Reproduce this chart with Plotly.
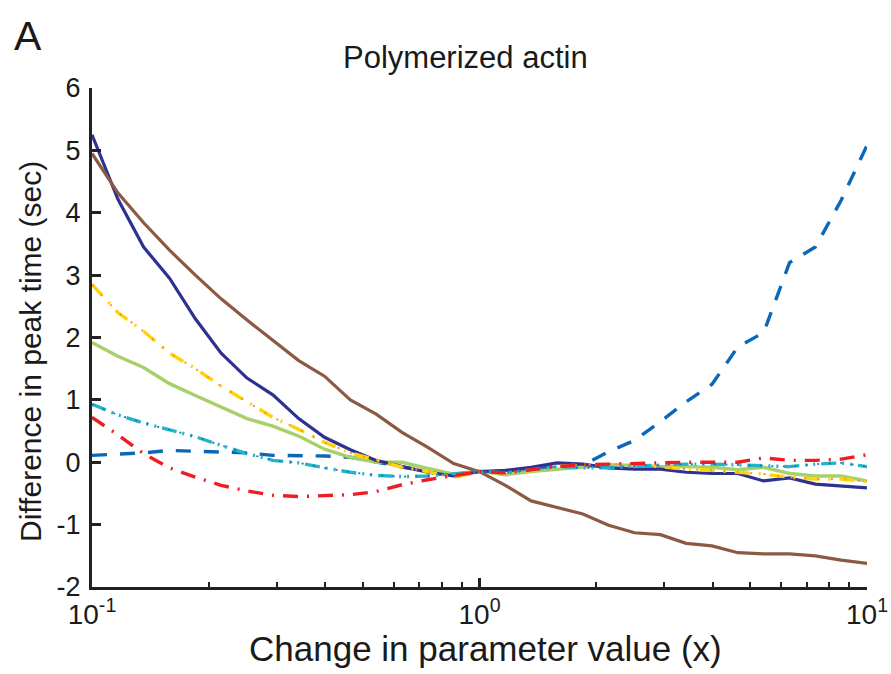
import plotly.graph_objects as go

# Parameter multipliers (log-spaced, 15 samples per decade)
scale = [0.1, 0.1166, 0.1359, 0.1585, 0.1848, 0.2154, 0.2512, 0.2929, 0.3415, 0.3981,
         0.4642, 0.5412, 0.6310, 0.7356, 0.8577, 1.0, 1.166, 1.359, 1.585, 1.848,
         2.154, 2.512, 2.929, 3.415, 3.981, 4.642, 5.412, 6.310, 7.356, 8.577, 10.0]

# Difference in peak time (sec) for each perturbed parameter
navy = [5.25, 4.22, 3.45, 2.95, 2.30, 1.75, 1.35, 1.08, 0.70, 0.40, 0.20, 0.03, -0.07, -0.16, -0.22,
        -0.15, -0.13, -0.08, -0.01, -0.03, -0.09, -0.11, -0.11, -0.16, -0.18, -0.18, -0.30, -0.25,
        -0.35, -0.38, -0.41]
brown = [4.95, 4.32, 3.84, 3.40, 3.00, 2.62, 2.28, 1.95, 1.63, 1.38, 1.00, 0.77, 0.48, 0.24, -0.02,
         -0.15, -0.37, -0.62, -0.72, -0.83, -1.01, -1.13, -1.16, -1.30, -1.34, -1.45, -1.47, -1.47,
         -1.50, -1.57, -1.62]
yellow = [2.85, 2.40, 2.10, 1.75, 1.50, 1.22, 0.97, 0.72, 0.53, 0.32, 0.15, 0.03, -0.08, -0.15, -0.25,
          -0.15, -0.18, -0.13, -0.07, -0.04, -0.03, -0.03, -0.07, -0.11, -0.13, -0.16, -0.19, -0.24,
          -0.27, -0.27, -0.31]
green = [1.92, 1.70, 1.52, 1.26, 1.07, 0.88, 0.70, 0.58, 0.42, 0.21, 0.08, 0.00, 0.00, -0.10, -0.19,
         -0.14, -0.20, -0.15, -0.11, -0.07, -0.04, -0.05, -0.07, -0.07, -0.08, -0.12, -0.08, -0.18,
         -0.22, -0.22, -0.30]
cyan = [0.93, 0.76, 0.63, 0.52, 0.41, 0.27, 0.14, 0.03, -0.01, -0.09, -0.16, -0.21, -0.23, -0.22, -0.18,
        -0.15, -0.17, -0.12, -0.07, -0.09, -0.09, -0.06, -0.04, -0.03, -0.03, -0.04, -0.06, -0.07,
        -0.03, -0.01, -0.07]
red = [0.72, 0.44, 0.14, -0.09, -0.24, -0.37, -0.46, -0.53, -0.55, -0.54, -0.52, -0.47, -0.36, -0.28, -0.22,
       -0.15, -0.17, -0.12, -0.07, -0.04, -0.03, -0.01, 0.00, 0.00, 0.00, 0.00, 0.07, 0.03,
       0.03, 0.05, 0.12]
blue = [0.11, 0.13, 0.15, 0.19, 0.18, 0.16, 0.15, 0.11, 0.11, 0.10, 0.08, 0.00, -0.08, -0.15, -0.20,
        -0.15, -0.15, -0.10, -0.06, -0.05, 0.17, 0.35, 0.65, 0.97, 1.25, 1.85, 2.08, 3.20,
        3.45, 4.20, 5.08]

x_ticks = [0.1, 1, 10]
x_ticktext = ["10<sup>-1</sup>", "10<sup>0</sup>", "10<sup>1</sup>"]
x_minor = [0.2, 0.3, 0.4, 0.5, 0.6, 0.7, 0.8, 0.9, 2, 3, 4, 5, 6, 7, 8, 9]
y_ticks = [-2, -1, 0, 1, 2, 3, 4, 5, 6]
y_ticktext = ["-2", "-1", "0", "1", "2", "3", "4", "5", "6"]

FONT = "Liberation Sans, Arial, Helvetica, sans-serif"
TEXT = "#1a1a1a"

# (values, colour, dash pattern, width)
styles = [
    (blue, "#0B67B8", "15px,13px", 3.4),
    (green, "#A8D06A", "solid", 3.4),
    (navy, "#2E3192", "solid", 3.2),
    (brown, "#8C5A43", "solid", 3.2),
    (yellow, "#FFD400", "15px,9px,2px,9px", 3.4),
    (yellow, "#F5962A", "2px,11.5px", 2),
    (cyan, "#22B4C8", "15px,6px,2px,6px,2px,6px", 3.4),
    (cyan, "#1C76C0", "2px,9.5px", 1.8),
    (red, "#EE1D25", "15px,9px,2px,9px", 3.4),
]

fig = go.Figure()
for vals, color, dash, w in styles:
    fig.add_trace(go.Scatter(
        x=scale, y=vals, mode="lines",
        line=dict(color=color, width=w, dash=dash),
        showlegend=False, hoverinfo="skip",
    ))

W, H = 891, 674
L, R, T, B = 92, 24, 88, 87
pw, ph = W - L - R, H - T - B


def px_to_paper(px, py):
    return (px - L) / pw, (H - B - py) / ph


def label(text, px, py, size, angle=0, anchor="center"):
    x, y = px_to_paper(px, py)
    return dict(text=text, x=x, y=y, xref="paper", yref="paper", showarrow=False,
                textangle=angle, xanchor=anchor, yanchor="middle",
                font=dict(size=size, family=FONT, color=TEXT))


axis_color = "#222222"
fig.update_layout(
    width=W, height=H,
    margin=dict(l=L, r=R, t=T, b=B, autoexpand=False),
    paper_bgcolor="white", plot_bgcolor="white",
    font=dict(family=FONT, color=TEXT),
    xaxis=dict(
        type="log", range=[-1, 1], automargin=False,
        tickmode="array", tickvals=x_ticks, ticktext=x_ticktext,
        ticks="inside", ticklen=9, tickwidth=2.5, tickcolor=axis_color,
        minor=dict(tickmode="array", tickvals=x_minor, ticks="inside",
                   ticklen=5, tickwidth=2, tickcolor=axis_color),
        showline=True, linewidth=3, linecolor=axis_color, mirror=False,
        showgrid=False, zeroline=False,
        tickfont=dict(size=28, family=FONT, color=TEXT),
    ),
    yaxis=dict(
        range=[-2, 6], automargin=False,
        tickmode="array", tickvals=y_ticks, ticktext=y_ticktext,
        ticks="inside", ticklen=9, tickwidth=2.5, tickcolor=axis_color,
        showline=True, linewidth=3, linecolor=axis_color, mirror=False,
        showgrid=False, zeroline=False,
        tickfont=dict(size=27, family=FONT, color=TEXT),
        ticklabelstandoff=3,
    ),
    annotations=[
        label("A", 12, 36, 41, anchor="left"),
        label("Polymerized actin", 465, 57, 31),
        label("Change in parameter value (x)", 485, 648, 35),
        label("Difference in peak time (sec)", 30, 352, 30, angle=-90),
    ],
)

fig.write_html("out.html")
